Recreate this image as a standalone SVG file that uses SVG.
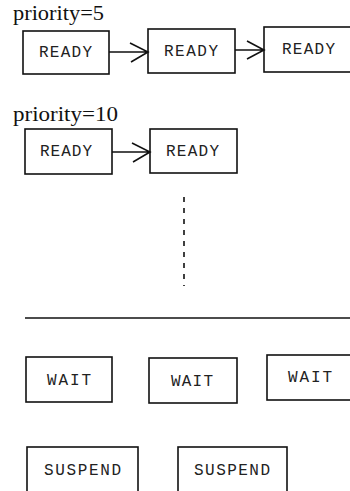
<svg xmlns="http://www.w3.org/2000/svg" width="350" height="491" viewBox="0 0 350 491">
<style>
.box{fill:#fff;stroke:#111;stroke-width:1.6}
.lbl{font-family:"Liberation Mono","Courier New",monospace;font-size:16px;fill:#222}
.title{font-family:"Liberation Serif","Times New Roman",serif;font-size:21px;fill:#111}
.conn{fill:none;stroke:#111;stroke-width:1.6}
</style>
<rect width="350" height="491" fill="#fff"/>
<text class="title" x="13" y="20" textLength="91" lengthAdjust="spacingAndGlyphs">priority=5</text>
<text class="title" x="13" y="121" textLength="105" lengthAdjust="spacingAndGlyphs">priority=10</text>
<g id="ready1"><rect class="box" x="23" y="31" width="86" height="43"/><text class="lbl" x="39" y="57" textLength="53">READY</text></g>
<g id="ready2"><rect class="box" x="148" y="29" width="87" height="44"/><text class="lbl" x="164" y="56" textLength="54">READY</text></g>
<g id="ready3"><rect class="box" x="264" y="27" width="90" height="45"/><text class="lbl" x="282" y="54" textLength="53">READY</text></g>
<g id="ready4"><rect class="box" x="25" y="129" width="87" height="45"/><text class="lbl" x="40" y="156" textLength="52">READY</text></g>
<g id="ready5"><rect class="box" x="150" y="129" width="87" height="44"/><text class="lbl" x="166" y="156" textLength="53">READY</text></g>
<g id="wait1"><rect class="box" x="26" y="357" width="86" height="45"/><text class="lbl" x="47" y="385" textLength="44">WAIT</text></g>
<g id="wait2"><rect class="box" x="149" y="358" width="88" height="45"/><text class="lbl" x="171" y="386" textLength="42">WAIT</text></g>
<g id="wait3"><rect class="box" x="267" y="355" width="90" height="45"/><text class="lbl" x="288" y="382" textLength="44">WAIT</text></g>
<g id="suspend1"><rect class="box" x="27" y="447" width="111" height="60"/><text class="lbl" x="44" y="475" textLength="77">SUSPEND</text></g>
<g id="suspend2"><rect class="box" x="178" y="447" width="109" height="60"/><text class="lbl" x="194" y="475" textLength="76">SUSPEND</text></g>
<g id="connectors">
<path class="conn" d="M109 52H148M130 43L148 52L131 62"/>
<path class="conn" d="M235 50H264M247 41L264 50L247 59"/>
<path class="conn" d="M112 152H150M132 143L150 152L133 162"/>
<path class="conn" d="M184 197V286" stroke-width="2" stroke-dasharray="5 6"/>
<path class="conn" d="M25 318H350"/>
</g>
</svg>
